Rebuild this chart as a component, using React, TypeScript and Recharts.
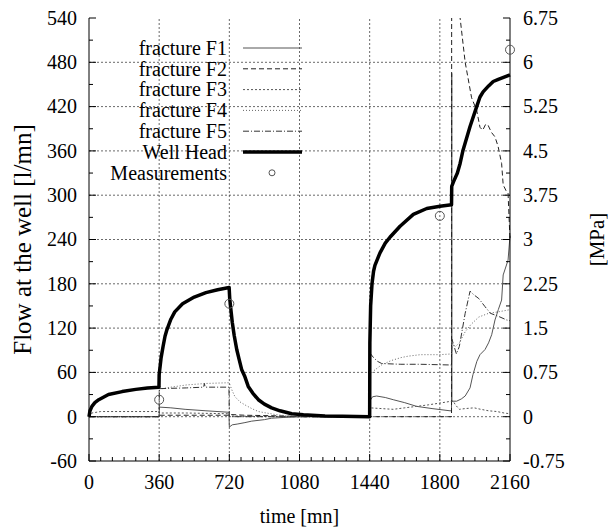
import React from 'react';
import { ComposedChart, Line, Scatter, XAxis, YAxis, ReferenceLine, Legend } from 'recharts';

const FONT = '"Liberation Serif", "Times New Roman", Times, serif';

// ---- data: [time (mn), flow (l/mn)] ----
const fractureF1: [number, number][] = [
  [0, 0], [360, 0], [361, 13], [420, 12], [493, 10], [600, 8], [718, 6], [720, -14], [735, -11], [760, -10],
  [800, -8], [835, -6], [900, -4], [937, -2], [1000, -1], [1080, 0], [1440, 0], [1442, 22], [1455, 27],
  [1476, 28], [1520, 26], [1561, 23], [1620, 19], [1681, 14], [1760, 11], [1852, 8], [1860, 8], [1861, 465],
  [1862, 21], [1886, 21], [1910, 24], [1930, 28], [1955, 39], [1970, 57], [1990, 75], [2006, 84], [2032, 91],
  [2050, 100], [2066, 111], [2083, 131], [2100, 145], [2117, 158], [2125, 192], [2150, 212], [2160, 245],
];
const fractureF2: [number, number][] = [
  [0, 0], [360, 0], [361, 2], [718, 2], [720, 3], [800, 2], [1000, 1], [1080, 0], [1440, 0], [1860, 0],
  [1861, 800], [1890, 620], [1904, 540], [1930, 480], [1963, 432], [1989, 415], [2006, 392], [2020, 388],
  [2035, 396], [2047, 395], [2065, 385], [2083, 379], [2099, 366], [2117, 343], [2125, 314], [2140, 306],
  [2150, 303], [2160, 240],
];
const fractureF3: [number, number][] = [
  [0, 0], [15, 5], [60, 7], [359, 7], [360, 5], [500, 5], [718, 4], [720, 1], [850, 0.5], [1080, 0],
  [1440, 0], [1442, 12], [1500, 11], [1561, 10], [1620, 12], [1681, 14], [1740, 16], [1801, 18.5],
  [1860, 21], [1869, 21], [1880, 16], [1900, 10], [1930, 11], [1976, 12], [2010, 10], [2050, 8],
  [2093, 7], [2130, 5], [2160, 4],
];
const fractureF4: [number, number][] = [
  [0, 0], [360, 0], [361, 42], [375, 38], [420, 40], [500, 43], [597, 45], [718, 46], [722, 44], [735, 35],
  [749, 27], [775, 20], [800, 16], [835, 11], [869, 7], [910, 5], [954, 3], [1000, 1.5], [1040, 0.5],
  [1080, 0], [1440, 0], [1442, 57], [1460, 62], [1500, 70], [1550, 76], [1600, 80], [1638, 82], [1700, 84],
  [1800, 84], [1860, 85], [1862, 100], [1880, 95], [1900, 100], [1930, 115], [1960, 125], [2000, 135],
  [2050, 140], [2100, 142], [2160, 145],
];
const fractureF5: [number, number][] = [
  [0, 0], [360, 0], [361, 38], [500, 39], [588, 40], [592, 45], [596, 40], [718, 40], [720, 0], [1440, 0],
  [1442, 86], [1460, 80], [1480, 75], [1502, 72], [1600, 71], [1700, 71], [1860, 70], [1862, 105],
  [1885, 85], [1900, 95], [1930, 140], [1955, 170], [1975, 165], [2000, 160], [2032, 149], [2060, 140],
  [2100, 136], [2143, 131], [2160, 130],
];
const wellHead: [number, number][] = [
  [0, 0], [5, 8], [15, 14], [30, 19], [50, 23], [100, 30], [170, 34], [240, 37], [300, 39], [359, 40],
  [360, 57], [370, 80], [380, 95], [390, 109], [400, 118], [420, 132], [440, 142], [480, 153], [540, 162],
  [600, 168], [660, 172], [719, 175], [722, 160], [728, 145], [735, 128], [745, 110], [758, 91], [770, 78],
  [783, 64], [800, 54], [817, 41], [840, 32], [869, 23], [900, 17], [937, 12], [980, 8], [1040, 4],
  [1100, 2.5], [1211, 1], [1300, 0.5], [1440, 0], [1441, 100], [1445, 150], [1452, 180], [1460, 197],
  [1467, 205], [1493, 222], [1520, 235], [1544, 243], [1596, 258], [1664, 274], [1733, 282], [1801, 285],
  [1860, 287], [1861, 312], [1870, 318], [1890, 330], [1904, 343], [1919, 361], [1955, 393], [1989, 420],
  [2006, 433], [2022, 440], [2050, 448], [2074, 454], [2100, 457], [2130, 460], [2160, 463],
];
const measurements: [number, number][] = [[360, 23], [720, 153], [1800, 272], [2160, 497]];

// ---- ticks ----
const timeTicks = [0, 60, 120, 180, 240, 300, 360, 420, 480, 540, 600, 660, 720, 780, 840, 900, 960, 1020, 1080,
  1140, 1200, 1260, 1320, 1380, 1440, 1500, 1560, 1620, 1680, 1740, 1800, 1860, 1920, 1980, 2040, 2100, 2160];
const timeGrid = [360, 720, 1080, 1440, 1800];
const flowTicks = [-60, -30, 0, 30, 60, 90, 120, 150, 180, 210, 240, 270, 300, 330, 360, 390, 420, 450, 480, 510, 540];
const flowGrid = [0, 60, 120, 180, 240, 300, 360, 420, 480];
const pressureTicks = [-0.75, -0.375, 0, 0.375, 0.75, 1.125, 1.5, 1.875, 2.25, 2.625, 3, 3.375, 3.75, 4.125, 4.5,
  4.875, 5.25, 5.625, 6, 6.375, 6.75];

const toPts = (arr: [number, number][]) => arr.map(([t, v]) => ({ t, v }));

const series = [
  { name: 'fracture F1', data: fractureF1, stroke: '#555', width: 1, dash: undefined },
  { name: 'fracture F2', data: fractureF2, stroke: '#222', width: 1, dash: '5 3' },
  { name: 'fracture F3', data: fractureF3, stroke: '#555', width: 1, dash: '2 2' },
  { name: 'fracture F4', data: fractureF4, stroke: '#666', width: 1, dash: '1 2' },
  { name: 'fracture F5', data: fractureF5, stroke: '#333', width: 1, dash: '6 2 1 2' },
  { name: 'Well Head', data: wellHead, stroke: '#000', width: 3.5, dash: undefined },
];

const MAJ = 7;
const MIN = 4;

const BottomTick = (p: any) => {
  const v = p.payload.value;
  const major = v % 360 === 0;
  return (
    <g>
      <line x1={p.x} y1={p.y} x2={p.x} y2={p.y - (major ? MAJ : MIN)} stroke="#000" />
      {major && (
        <text x={p.x} y={p.y + 28} textAnchor="middle" fontSize={20} fontFamily={FONT} fill="#000">{v}</text>
      )}
    </g>
  );
};
const TopTick = (p: any) => {
  const major = p.payload.value % 360 === 0;
  return <line x1={p.x} y1={p.y} x2={p.x} y2={p.y + (major ? MAJ : MIN)} stroke="#000" />;
};
const LeftTick = (p: any) => {
  const v = p.payload.value;
  const major = v % 60 === 0;
  return (
    <g>
      <line x1={p.x} y1={p.y} x2={p.x + (major ? MAJ : MIN)} y2={p.y} stroke="#000" />
      {major && (
        <text x={p.x - 12} y={p.y} dy="0.34em" textAnchor="end" fontSize={20} fontFamily={FONT} fill="#000">{v}</text>
      )}
    </g>
  );
};
const RightTick = (p: any) => {
  const v = p.payload.value;
  const major = Math.round(v / 0.375) % 2 === 0;
  return (
    <g>
      <line x1={p.x} y1={p.y} x2={p.x - (major ? MAJ : MIN)} y2={p.y} stroke="#000" />
      {major && (
        <text x={p.x + 13} y={p.y} dy="0.34em" textAnchor="start" fontSize={20} fontFamily={FONT} fill="#000">{String(v)}</text>
      )}
    </g>
  );
};

const LegendBox = () => {
  const rows = [...series.map((s) => ({ name: s.name, s })), { name: 'Measurements', s: null as any }];
  return (
    <svg width={330} height={200} style={{ position: 'absolute', left: 0, top: 0 }}>
      {rows.map((r, i) => {
        const y = 48 + i * 20.8;
        return (
          <g key={r.name}>
            <text x={227} y={y} dy="0.34em" textAnchor="end" fontSize={20} fontFamily={FONT} fill="#000">{r.name}</text>
            {r.s ? (
              <line x1={243} y1={y} x2={302} y2={y} stroke={r.s.stroke} strokeWidth={r.s.width} strokeDasharray={r.s.dash} />
            ) : (
              <circle cx={272} cy={y} r={3} fill="none" stroke="#555" />
            )}
          </g>
        );
      })}
    </svg>
  );
};

export default function App() {
  return (
    <div style={{ width: 608, height: 527 }}>
      <style>{'html, body { margin: 0; padding: 0; }'}</style>
      <ComposedChart width={608} height={527} margin={{ top: 18, right: 0, bottom: 0, left: 0 }}>
        <XAxis
          xAxisId="b" dataKey="t" type="number" domain={[0, 2160]} ticks={timeTicks} interval={0}
          tickSize={0} tickMargin={0} tickLine={false} tick={<BottomTick />} height={66}
          axisLine={{ stroke: '#000' }}
          label={{
            content: (p: any) => {
              const vb = p.viewBox || { x: 89, y: 461, width: 421 };
              return <text x={vb.x + vb.width / 2} y={vb.y + 55} dy="0.34em" textAnchor="middle" fontSize={20} fontFamily={FONT} fill="#000">time [mn]</text>;
            },
          }}
        />
        <XAxis
          xAxisId="top" orientation="top" type="number" domain={[0, 2160]} ticks={timeTicks} interval={0}
          tickSize={0} tickMargin={0} tickLine={false} tick={<TopTick />} height={0} axisLine={{ stroke: '#000' }}
          allowDataOverflow
        />
        <YAxis
          yAxisId="l" type="number" domain={[-60, 540]} ticks={flowTicks} interval={0} allowDataOverflow
          tickSize={0} tickMargin={0} tickLine={false} tick={<LeftTick />} width={89} axisLine={{ stroke: '#000' }}
          label={{
            content: (p: any) => {
              const vb = p.viewBox || { x: 0, y: 18, width: 89, height: 443 };
              const cx = vb.x + 22;
              const cy = vb.y + vb.height / 2;
              return <text x={cx} y={cy} dy="0.34em" transform={`rotate(-90 ${cx} ${cy})`} textAnchor="middle" fontSize={25} fontFamily={FONT} fill="#000">Flow at the well [l/mn]</text>;
            },
          }}
        />
        <YAxis
          yAxisId="r" orientation="right" type="number" domain={[-0.75, 6.75]} ticks={pressureTicks} interval={0}
          allowDataOverflow tickSize={0} tickMargin={0} tickLine={false} tick={<RightTick />} width={98}
          axisLine={{ stroke: '#000' }}
          label={{
            content: (p: any) => {
              const vb = p.viewBox || { x: 510, y: 18, width: 98, height: 443 };
              const cx = vb.x + 87;
              const cy = vb.y + vb.height / 2;
              return <text x={cx} y={cy} dy="0.34em" transform={`rotate(-90 ${cx} ${cy})`} textAnchor="middle" fontSize={21} fontFamily={FONT} fill="#000">[MPa]</text>;
            },
          }}
        />
        <YAxis yAxisId="m" type="number" domain={[-60, 540]} hide />
        {timeGrid.map((t) => (
          <ReferenceLine key={'gx' + t} x={t} xAxisId="b" yAxisId="l" stroke="#444" strokeDasharray="2 2" strokeWidth={0.8} />
        ))}
        {flowGrid.map((v) => (
          <ReferenceLine key={'gy' + v} y={v} xAxisId="b" yAxisId="l" stroke="#444" strokeDasharray="2 2" strokeWidth={0.8} />
        ))}
        {series.map((s) => (
          <Line
            key={s.name} name={s.name} data={toPts(s.data)} dataKey="v" xAxisId="b" yAxisId="l" type="linear"
            stroke={s.stroke} strokeWidth={s.width} strokeDasharray={s.dash} dot={false} activeDot={false}
            isAnimationActive={false} strokeLinejoin="round"
          />
        ))}
        <Scatter
          name="Measurements" data={toPts(measurements)} dataKey="v" xAxisId="b" yAxisId="m" isAnimationActive={false}
          shape={(p: any) => <circle cx={p.cx} cy={p.cy} r={4.5} fill="none" stroke="#555" strokeWidth={1} />}
        />
        <Legend
          layout="horizontal" verticalAlign="middle" align="center" content={() => <LegendBox />}
          wrapperStyle={{ left: 0, top: 0, width: 330, height: 200, pointerEvents: 'none' }}
        />
      </ComposedChart>
    </div>
  );
}
